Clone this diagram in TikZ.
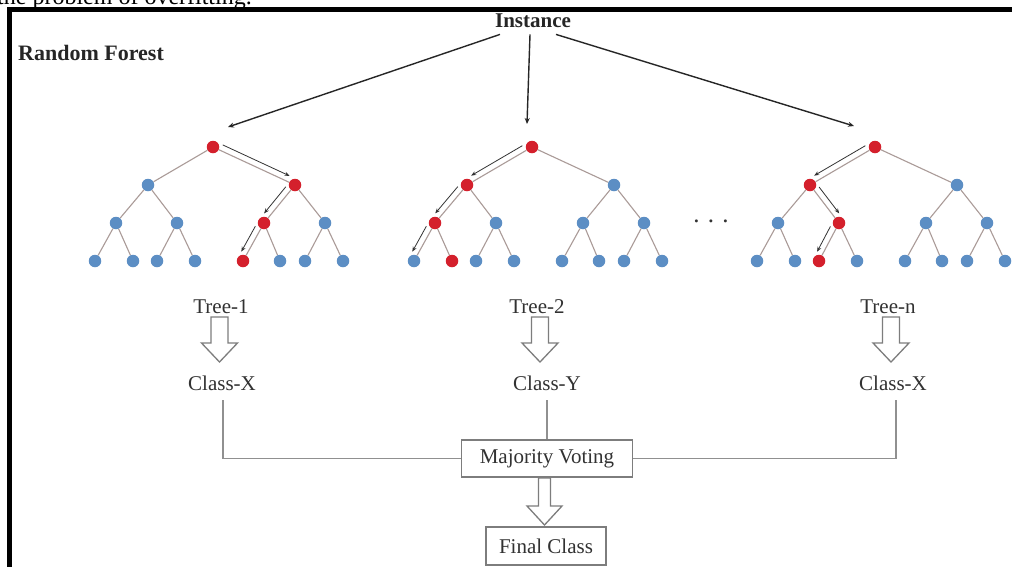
\documentclass[tikz,border=0pt]{standalone}
\usepackage{fontspec}
\setmainfont{Liberation Serif}
\usetikzlibrary{arrows.meta,calc}
\definecolor{nblue}{RGB}{92,142,196}
\definecolor{nred}{RGB}{212,32,44}
\definecolor{edgec}{RGB}{170,155,152}
\definecolor{boxc}{RGB}{125,125,125}
\definecolor{txtc}{RGB}{50,50,50}

\newcommand\mytree[2]{%
  \node[tn,#1-r/.try]   (#1-r)   at (#2,147) {};
  \node[tn,#1-a/.try]   (#1-a)   at (#2-65,185) {};
  \node[tn,#1-b/.try]   (#1-b)   at (#2+82,185) {};
  \node[tn,#1-aa/.try]  (#1-aa)  at (#2-97,223) {};
  \node[tn,#1-ab/.try]  (#1-ab)  at (#2-36,223) {};
  \node[tn,#1-ba/.try]  (#1-ba)  at (#2+51,223) {};
  \node[tn,#1-bb/.try]  (#1-bb)  at (#2+112,223) {};
  \node[tn,#1-aaa/.try] (#1-aaa) at (#2-118,261) {};
  \node[tn,#1-aab/.try] (#1-aab) at (#2-80,261) {};
  \node[tn,#1-aba/.try] (#1-aba) at (#2-56,261) {};
  \node[tn,#1-abb/.try] (#1-abb) at (#2-18,261) {};
  \node[tn,#1-baa/.try] (#1-baa) at (#2+30,261) {};
  \node[tn,#1-bab/.try] (#1-bab) at (#2+67,261) {};
  \node[tn,#1-bba/.try] (#1-bba) at (#2+92,261) {};
  \node[tn,#1-bbb/.try] (#1-bbb) at (#2+130,261) {};
  \foreach \p/\c in {r/a,r/b,a/aa,a/ab,b/ba,b/bb,aa/aaa,aa/aab,ab/aba,ab/abb,ba/baa,ba/bab,bb/bba,bb/bbb}
    \draw[edge] (#1-\p) -- (#1-\c);
}
\newcommand\patharrow[3]{%
  \path (#1) -- (#2) coordinate[pos=0.02] (ps) coordinate[pos=0.97] (pe);
  \draw[parr] ($(ps)!6pt!#3:(pe)$) -- ($(pe)!-6pt!#3:(ps)$);
}
% center x, top y, shaft half width, head start, head half width, tip length
\newcommand\hollowarrow[6]{%
  \begin{scope}[shift={(#1,#2)}]
    \draw[harrow] (-#3,0) -- (#3,0) -- (#3,#4) -- (#5,#4) -- (0,#6) -- (-#5,#4) -- (-#3,#4) -- cycle;
  \end{scope}
}

\tikzset{
  T1-r/.style={fill=nred}, T1-b/.style={fill=nred}, T1-ba/.style={fill=nred}, T1-baa/.style={fill=nred},
  T2-r/.style={fill=nred}, T2-a/.style={fill=nred}, T2-aa/.style={fill=nred}, T2-aab/.style={fill=nred},
  T3-r/.style={fill=nred}, T3-a/.style={fill=nred}, T3-ab/.style={fill=nred}, T3-aba/.style={fill=nred},
}

\begin{document}
\begin{tikzpicture}[x=1pt,y=-1pt,
  tn/.style={circle,fill=nblue,inner sep=0pt,minimum size=12.5pt},
  edge/.style={draw=edgec,line width=1.1pt},
  parr/.style={draw=black!80,line width=0.8pt,-{Stealth[length=5pt,width=4pt]}},
  iarr/.style={draw=black!85,line width=1.4pt,-{Stealth[length=6pt,width=5pt]}},
  lbl/.style={font=\fontsize{21}{24}\selectfont,text=txtc,inner sep=0pt},
  bold/.style={font=\fontsize{22}{26}\selectfont\bfseries,text=black!85,inner sep=0pt},
  box/.style={draw=boxc,line width=1.4pt,fill=white,text=txtc,font=\fontsize{21}{24}\selectfont,inner sep=0pt},
  conn/.style={draw=boxc!85,line width=1.3pt},
  harrow/.style={draw=boxc,line width=1.3pt,fill=white,line join=miter}
]
\useasboundingbox (0,0) rectangle (1012,566);
\clip (0,0) rectangle (1012,566);
\fill[white] (0,0) rectangle (1012,566);

% cut-off text line above the figure
\node[anchor=base east,font=\fontsize{24}{28}\selectfont,inner sep=0pt] (top) at (252,4) {the problem of overfitting.};

% frame
\draw[line width=5pt,line join=miter] (9.2,580) -- (9.2,9.2) -- (1030,9.2);

\node[bold,anchor=base west] (rf) at (18,60) {Random Forest};
\node[anchor=base,inner sep=0pt,text=black!85,font=\fontsize{21}{24}\selectfont\bfseries] (inst) at (533,27) {Instance};

\mytree{T1}{213}
\mytree{T2}{532}
\mytree{T3}{875}

\patharrow{T1-r}{T1-b}{90}
\patharrow{T1-b}{T1-ba}{-90}
\patharrow{T1-ba}{T1-baa}{-90}
\patharrow{T2-r}{T2-a}{-90}
\patharrow{T2-a}{T2-aa}{-90}
\patharrow{T2-aa}{T2-aaa}{-90}
\patharrow{T3-r}{T3-a}{-90}
\patharrow{T3-a}{T3-ab}{90}
\patharrow{T3-ab}{T3-aba}{-90}

\coordinate (e1) at (228,127);
\coordinate (e2) at (527,124);
\coordinate (e3) at (854,126);
\draw[iarr] ([xshift=-33pt,yshift=-7pt]inst.south) -- (e1);
\draw[iarr] ([xshift=-3pt,yshift=-7pt]inst.south) -- (e2);
\draw[iarr] ([xshift=23pt,yshift=-7pt]inst.south) -- (e3);

\node[anchor=base,font=\fontsize{25}{28}\selectfont,text=black!80,inner sep=0pt] (dots) at (711,222) {. . .};

\node[lbl,anchor=base] (t1) at (221,313) {Tree-1};
\node[lbl,anchor=base] (t2) at (537,313) {Tree-2};
\node[lbl,anchor=base] (t3) at (888,313) {Tree-n};

\hollowarrow{219.5}{317}{8.5}{26}{18}{45}
\hollowarrow{540}{317}{8.5}{26}{18}{45}
\hollowarrow{891}{317}{8.5}{26}{18}{45}

\node[lbl,anchor=base,inner ysep=10pt] (c1) at (222,390) {Class-X};
\node[lbl,anchor=base,inner ysep=10pt] (c2) at (547,390) {Class-Y};
\node[lbl,anchor=base,inner ysep=10pt] (c3) at (893,390) {Class-X};

\node[box,minimum width=171pt,minimum height=37pt] (mv) at (547,458.5) {Majority Voting};
\node[box,minimum width=120pt,minimum height=38pt] (fc) at (546,546) {Final Class};

\draw[conn] ([xshift=1pt]c1.south) |- (mv.west);
\draw[conn] (c2.south) -- (mv.north);
\draw[conn] ([xshift=3pt]c3.south) |- (mv.east);

\hollowarrow{544.5}{478}{6}{28}{17.5}{47}
\end{tikzpicture}
\end{document}
